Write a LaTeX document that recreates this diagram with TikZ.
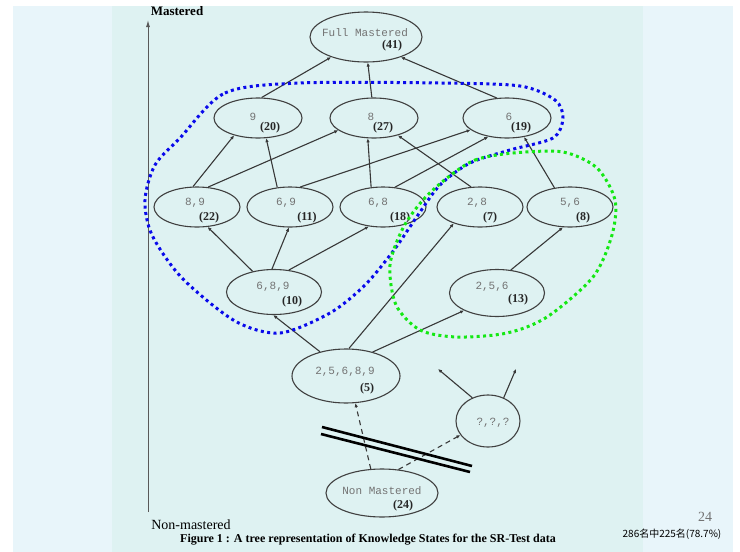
\documentclass[tikz,border=0pt]{standalone}
\usepackage{fontspec}
\setmainfont{Liberation Serif}
\setmonofont{Liberation Mono}
\newfontfamily\cjk{Noto Sans CJK SC}
\usetikzlibrary{arrows.meta,shapes.geometric,calc}
\definecolor{panel}{RGB}{222,242,242}
\definecolor{side}{RGB}{232,245,250}
\definecolor{ringblue}{RGB}{10,10,235}
\definecolor{ringgreen}{RGB}{20,232,20}
\tikzset{
  state/.style={draw=black!75, ellipse, line width=1.1pt, inner sep=0pt},
  lbl/.style={font=\fontsize{11}{11}\selectfont\ttfamily, text=black!55},
  cnt/.style={font=\fontsize{12}{12}\selectfont\bfseries, text=black!85},
  edge/.style={draw=black!78, line width=1.1pt, -{Latex[length=4pt,width=3.5pt]}},
  ring/.style={line width=3pt, dash pattern=on 3pt off 3.4pt}
}

\begin{document}
\begin{tikzpicture}[x=1pt,y=-1pt]
  \useasboundingbox (0,0) rectangle (740,552);
  % slide background
  \fill[white] (0,0) rectangle (740,552);
  \fill[side] (13,6) rectangle (112,552);
  \fill[side] (643,6) rectangle (733,552);
  \fill[panel] (112,6) rectangle (643,552);

  % axis
  \coordinate (lo) at (148,512);
  \coordinate (hi) at (148,20);
  \draw[black!65, line width=1pt, -{Latex[length=7pt,width=4pt]}] (lo) -- (hi);
  \node[font=\fontsize{13}{13}\selectfont\bfseries] (mas) at (177,11) {Mastered};
  \node[font=\fontsize{14}{14}\selectfont] (nonmas) at (191,525) {Non-mastered};

  % states
  \node[state, minimum width=112, minimum height=50,
    label={[lbl,xshift=-1pt,yshift=4pt]center:{Full Mastered}},
    label={[cnt,xshift=26pt,yshift=-9pt]center:{(41)}}] (full) at (366,37) {};

  \node[state, minimum width=88, minimum height=40,
    label={[lbl,xshift=-5pt,yshift=1pt]center:{9}},
    label={[cnt,xshift=12pt,yshift=-10pt]center:{(20)}}] (s9) at (258,118) {};
  \node[state, minimum width=88, minimum height=40,
    label={[lbl,xshift=-3pt,yshift=1pt]center:{8}},
    label={[cnt,xshift=9pt,yshift=-10pt]center:{(27)}}] (s8) at (374,118) {};
  \node[state, minimum width=88, minimum height=40,
    label={[lbl,xshift=2pt,yshift=1pt]center:{6}},
    label={[cnt,xshift=14pt,yshift=-10pt]center:{(19)}}] (s6) at (507,118) {};

  \node[state, minimum width=86, minimum height=40,
    label={[lbl,xshift=-2pt,yshift=4pt]center:{8,9}},
    label={[cnt,xshift=12pt,yshift=-11pt]center:{(22)}}] (s89) at (197,207) {};
  \node[state, minimum width=86, minimum height=40,
    label={[lbl,xshift=-4pt,yshift=4pt]center:{6,9}},
    label={[cnt,xshift=17pt,yshift=-11pt]center:{(11)}}] (s69) at (290,207) {};
  \node[state, minimum width=86, minimum height=40,
    label={[lbl,xshift=-5pt,yshift=4pt]center:{6,8}},
    label={[cnt,xshift=17pt,yshift=-11pt]center:{(18)}}] (s68) at (383,207) {};
  \node[state, minimum width=86, minimum height=40,
    label={[lbl,xshift=-3pt,yshift=4pt]center:{2,8}},
    label={[cnt,xshift=10pt,yshift=-11pt]center:{(7)}}] (s28) at (480,207) {};
  \node[state, minimum width=86, minimum height=40,
    label={[lbl,xshift=0pt,yshift=4pt]center:{5,6}},
    label={[cnt,xshift=13pt,yshift=-11pt]center:{(8)}}] (s56) at (570,207) {};

  \node[state, minimum width=95, minimum height=45,
    label={[lbl,xshift=-1pt,yshift=5pt]center:{6,8,9}},
    label={[cnt,xshift=18pt,yshift=-10pt]center:{(10)}}] (s689) at (274,292) {};
  \node[state, minimum width=95, minimum height=47,
    label={[lbl,xshift=-5pt,yshift=6pt]center:{2,5,6}},
    label={[cnt,xshift=21pt,yshift=-7pt]center:{(13)}}] (s256) at (497,293) {};

  \node[state, minimum width=108, minimum height=54,
    label={[lbl,xshift=-1pt,yshift=4pt]center:{2,5,6,8,9}},
    label={[cnt,xshift=21pt,yshift=-13pt]center:{(5)}}] (s25689) at (346,376) {};
  \node[state, minimum width=64, minimum height=52,
    label={[lbl,xshift=5pt,yshift=-2pt]center:{?,?,?}}] (unk) at (488,421) {};
  \node[state, minimum width=112, minimum height=48,
    label={[lbl,xshift=0pt,yshift=2pt]center:{Non Mastered}},
    label={[cnt,xshift=21pt,yshift=-13pt]center:{(24)}}] (none) at (382,493) {};

  % links
  \draw[edge] (s9.80) -- (full.210);
  \draw[edge] (s8.96) -- (full.274);
  \draw[edge] (s6.117) -- (full.330);

  \draw[edge] (s89.101) -- (s9.216);
  \draw[edge] (s89.61) -- (s8.199);
  \draw[edge] (s69.123) -- (s9.292);
  \draw[edge] (s69.63) -- (s6.198);
  \draw[edge] (s68.121) -- (s8.253);
  \draw[edge] (s68.59) -- (s6.225);
  \draw[edge] (s28.114) -- (s8.324);
  \draw[edge] (s56.129) -- (s6.312);

  \draw[edge] (s689.136) -- (s89.298);
  \draw[edge] (s689.95) -- (s69.267);
  \draw[edge] (s689.56) -- (s68.234);
  \draw[edge] (s256.59) -- (s56.251);

  \draw[edge] (s25689.137) -- (s689.268);
  \draw[edge] (s25689.84) -- (s28.212);
  \draw[edge] (s25689.42) -- (s256.208);

  \draw[edge, dash pattern=on 5pt off 4pt] (none.115) -- (s25689.289);
  \draw[edge, dash pattern=on 5pt off 4pt] (none.55) -- (unk.207);
  \coordinate (upl) at (438,369);
  \coordinate (upr) at (516,369);
  \draw[edge] (unk.124) -- (upl);
  \draw[edge] (unk.56) -- (upr);

  % the cut
  \draw[line width=2.6pt] (322,427) -- (472,466);
  \draw[line width=2.6pt] (321,434) -- (470,472);

  % groups
  \draw[ring, ringblue] plot[smooth cycle] coordinates {
    (180,138) (225,93) (300,83) (440,83) (520,86) (555,100) (563,118)
    (553,138) (510,150) (470,163) (440,185) (418,215) (394,250)
    (365,285) (330,313) (280,333) (235,321) (182,278) (152,235)
    (145,200) (155,165)};
  \draw[ring, ringgreen] plot[smooth cycle] coordinates {
    (447,178) (475,160) (513,153) (563,152) (597,168) (615,200)
    (612,235) (593,277) (547,317) (507,333) (457,337) (420,330)
    (396,305) (390,265) (403,228) (423,200)};

  % caption
  \node[font=\fontsize{12}{12}\selectfont\bfseries] (cap) at (368,540)
    {Figure 1 : A tree representation of Knowledge States for the SR-Test data};
  \node[font=\fontsize{14}{14}\selectfont, text=black!55] (page) at (705,517) {24};
  \node[font=\fontsize{10}{10}\selectfont\cjk] (note) at (672,534) {286名中225名(78.7\%)};
\end{tikzpicture}
\end{document}
